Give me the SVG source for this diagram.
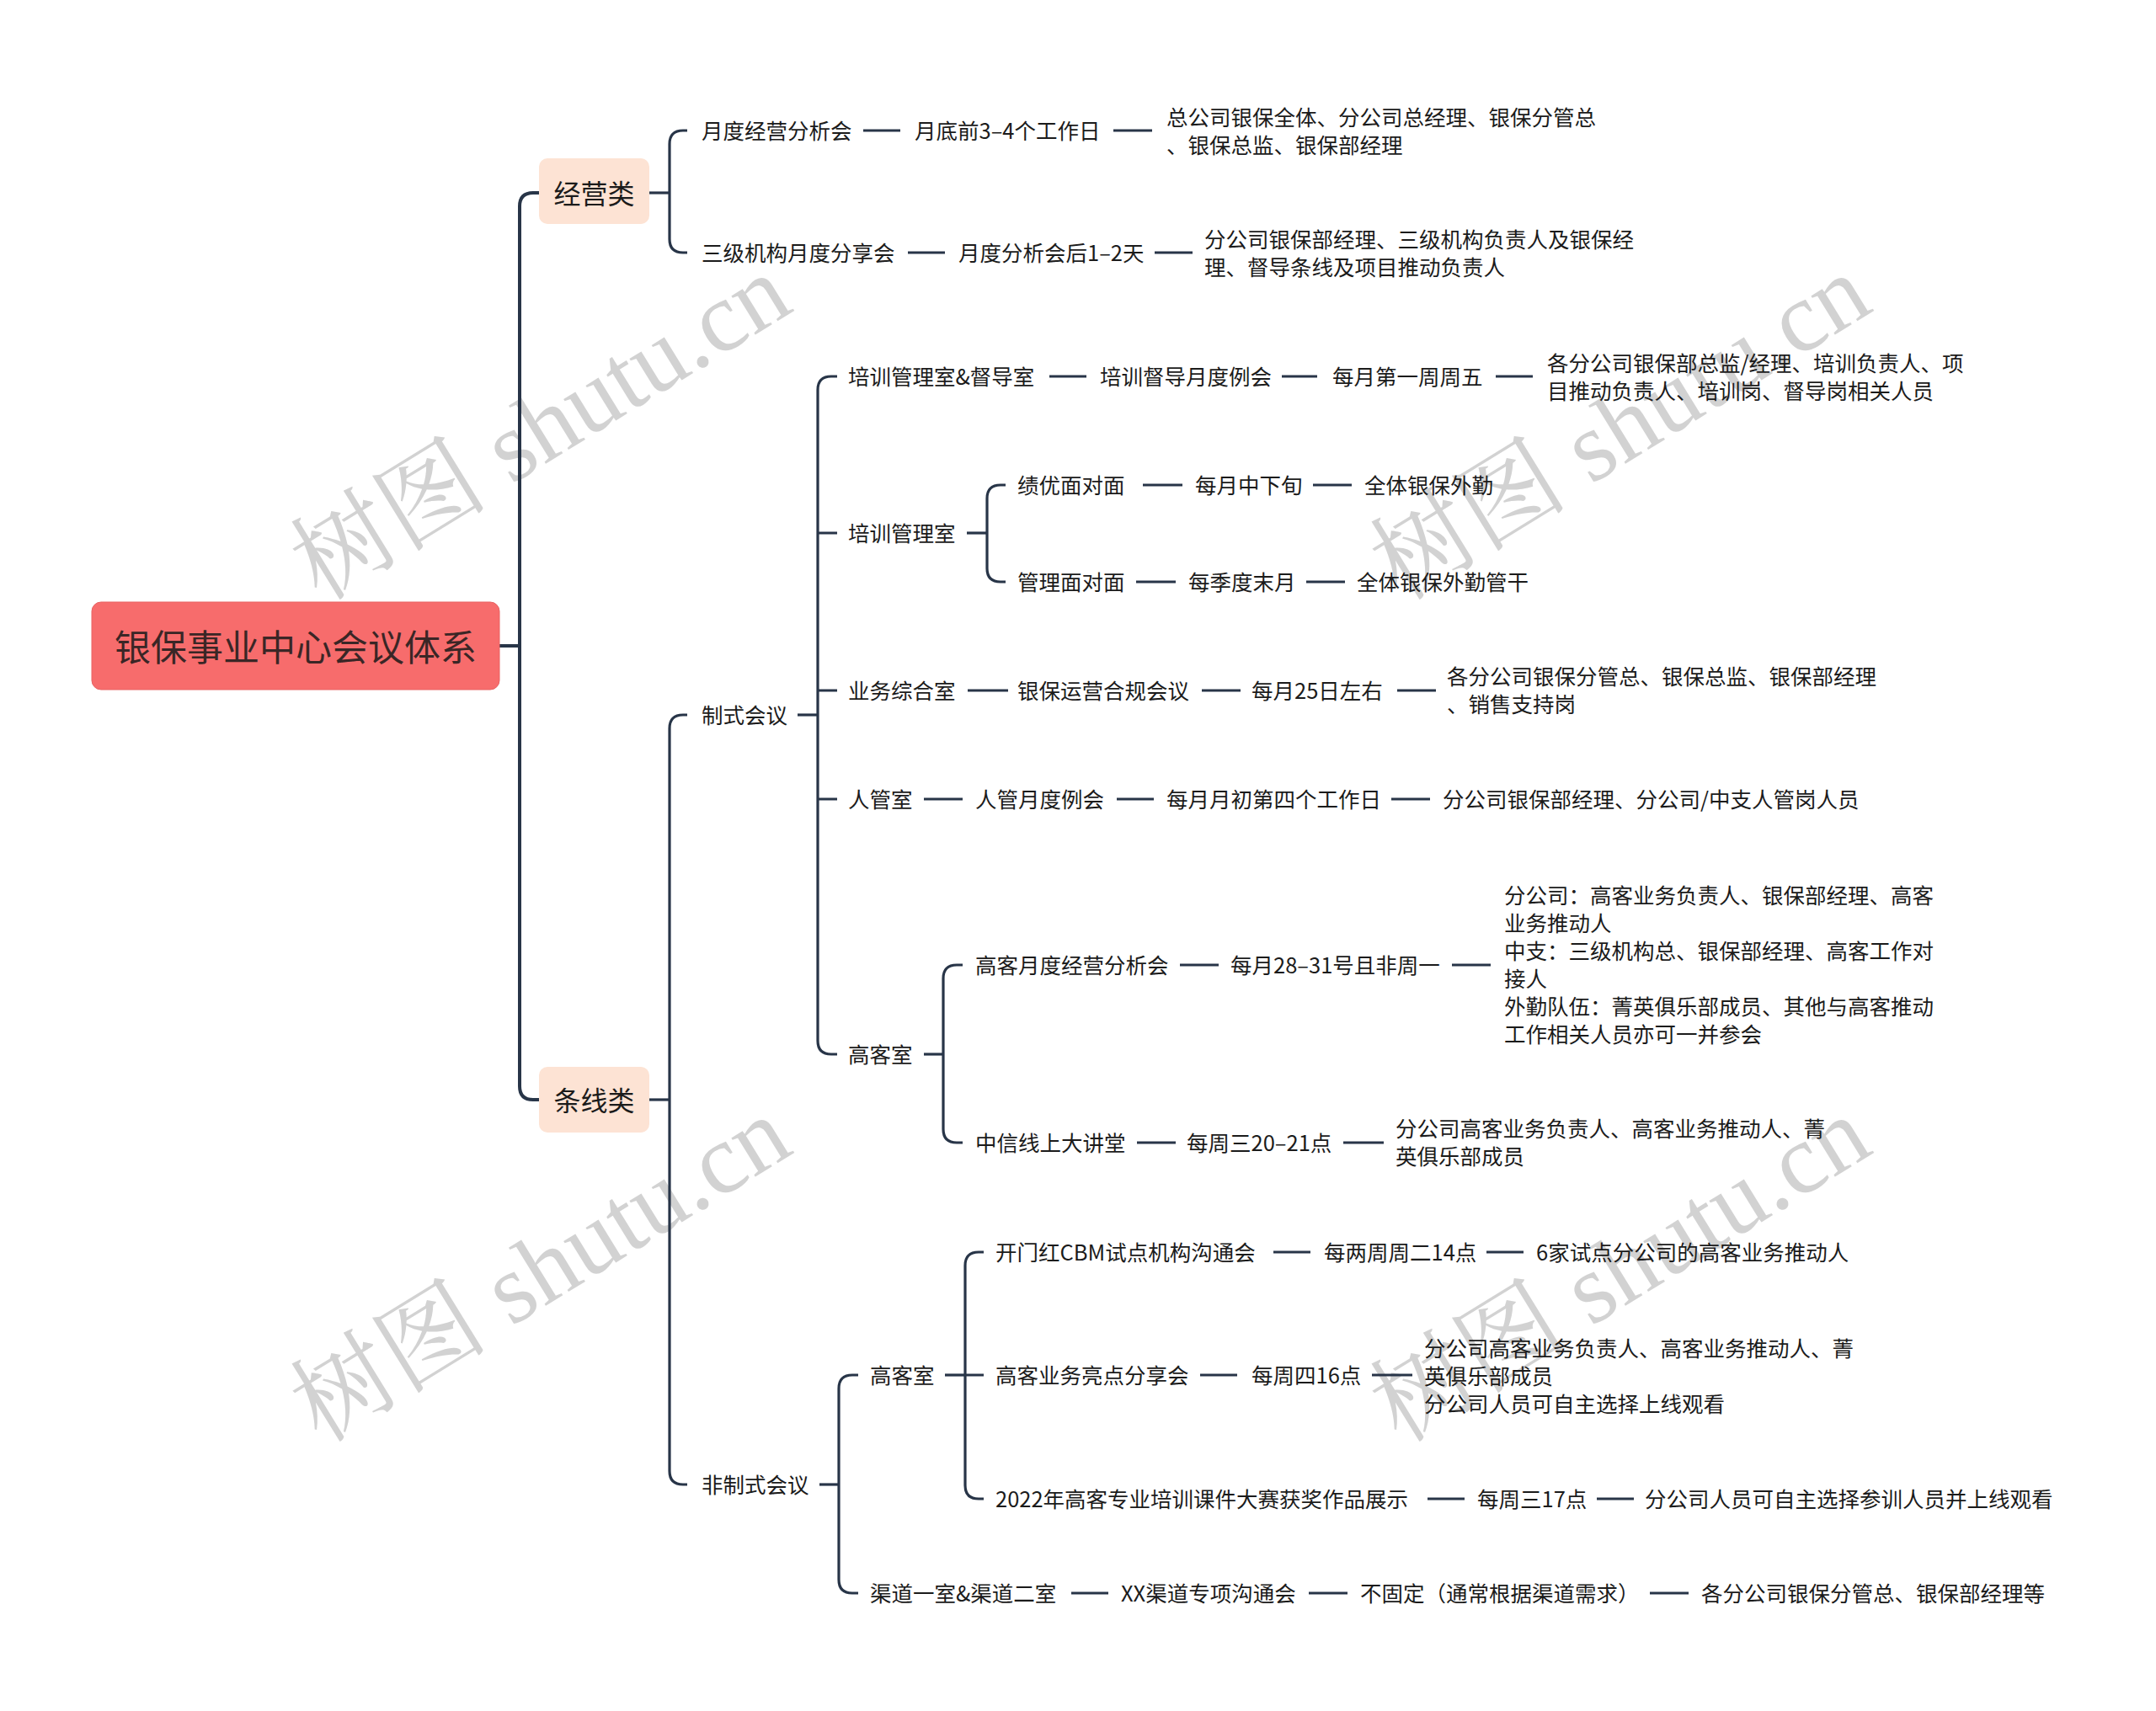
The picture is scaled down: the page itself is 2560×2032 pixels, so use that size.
<svg xmlns="http://www.w3.org/2000/svg" width="2560" height="2032" viewBox="0 0 2560 2032">
<style>
text{font-family:"Noto Sans CJK SC","Noto Sans",sans-serif;fill:#1b1b1b;dominant-baseline:central}
.n{font-size:25.5px;transform:translateY(-1.5px)}
.root{font-size:43px;text-anchor:middle;fill:#3a2626}
.cat{font-size:32px;text-anchor:middle;transform:translateY(-1px)}
.wm{font-family:"Liberation Serif","Noto Serif CJK SC","Noto Sans CJK SC",serif;font-size:118px;fill:#c4c4c4;opacity:0.75;text-anchor:middle}
.c{fill:none;stroke:#283548;stroke-width:3.2;stroke-linecap:butt}
.t{fill:none;stroke:#283548;stroke-width:4}
</style>
<rect width="2560" height="2032" fill="#ffffff"/>
<g id="watermark">
<text class="wm" transform="translate(642,508) rotate(-31.6)">树图 shutu.cn</text>
<text class="wm" transform="translate(1924,508) rotate(-31.6)">树图 shutu.cn</text>
<text class="wm" transform="translate(642,1508) rotate(-31.6)">树图 shutu.cn</text>
<text class="wm" transform="translate(1924,1508) rotate(-31.6)">树图 shutu.cn</text>
</g>
<g id="connectors">
<path class="t" d="M593,767 H617"/>
<path class="t" d="M640,229 H633 Q617,229 617,245 V1290 Q617,1306 633,1306 H640"/>
<path class="c" d="M771,229 H795"/>
<path class="c" d="M816,155 H811 Q795,155 795,171 V284 Q795,300 811,300 H816"/>
<path class="c" d="M1025,155 H1069 M1322,155 H1368"/>
<path class="c" d="M1078,300 H1122 M1371,300 H1416"/>
<path class="c" d="M771,1306 H795"/>
<path class="c" d="M816,849 H811 Q795,849 795,865 V1747 Q795,1763 811,1763 H816"/>
<path class="c" d="M947,849 H971"/>
<path class="c" d="M994,447 H987 Q971,447 971,463 V1236 Q971,1252 987,1252 H994 M971,633 H994 M971,820 H994 M971,949 H994"/>
<path class="c" d="M1246,447 H1290 M1522,447 H1564 M1776,447 H1820"/>
<path class="c" d="M1148,633 H1172"/>
<path class="c" d="M1194,576 H1188 Q1172,576 1172,592 V675 Q1172,691 1188,691 H1194"/>
<path class="c" d="M1357,576 H1404 M1559,576 H1605"/>
<path class="c" d="M1349,691 H1396 M1551,691 H1597"/>
<path class="c" d="M1149,820 H1197 M1427,820 H1473 M1659,820 H1705"/>
<path class="c" d="M1097,949 H1143 M1326,949 H1370 M1652,949 H1698"/>
<path class="c" d="M1097,1252 H1120"/>
<path class="c" d="M1143,1146 H1136 Q1120,1146 1120,1162 V1341 Q1120,1357 1136,1357 H1143"/>
<path class="c" d="M1401,1146 H1447 M1724,1146 H1770"/>
<path class="c" d="M1350,1357 H1396 M1595,1357 H1643"/>
<path class="c" d="M973,1763 H996"/>
<path class="c" d="M1019,1633 H1012 Q996,1633 996,1649 V1876 Q996,1892 1012,1892 H1019"/>
<path class="c" d="M1122,1633 H1146"/>
<path class="c" d="M1168,1487 H1162 Q1146,1487 1146,1503 V1764 Q1146,1780 1162,1780 H1168 M1146,1633 H1168"/>
<path class="c" d="M1512,1487 H1556 M1765,1487 H1809"/>
<path class="c" d="M1425,1633 H1469 M1629,1633 H1677"/>
<path class="c" d="M1695,1780 H1739 M1896,1780 H1940"/>
<path class="c" d="M1272,1892 H1316 M1554,1892 H1600 M1959,1892 H2005"/>
</g>
<g id="root">
<rect x="109" y="715" width="484" height="104" rx="11" fill="#f76c6c" stroke="#e86262" stroke-width="1"/>
<text class="root" x="351" y="766">银保事业中心会议体系</text>
</g>
<g id="cat-jingying">
<rect x="640" y="188" width="131" height="78" rx="10" fill="#fde3d4"/>
<text class="cat" x="705.5" y="229">经营类</text>
</g>
<g id="cat-tiaoxian">
<rect x="640" y="1267" width="131" height="78" rx="10" fill="#fde3d4"/>
<text class="cat" x="705.5" y="1306">条线类</text>
</g>
<g id="n-ydjyfxh"><text class="n" x="833" y="155">月度经营分析会</text></g>
<g id="n-ydq34"><text class="n" x="1086" y="155">月底前3–4个工作日</text></g>
<g id="n-ydjyfxh-p"><text class="n" x="1385" y="139">总公司银保全体、分公司总经理、银保分管总</text><text class="n" x="1385" y="172">、银保总监、银保部经理</text></g>
<g id="n-sjjg"><text class="n" x="833" y="300">三级机构月度分享会</text></g>
<g id="n-ydfxhh"><text class="n" x="1138" y="300">月度分析会后1–2天</text></g>
<g id="n-sjjg-p"><text class="n" x="1430" y="284">分公司银保部经理、三级机构负责人及银保经</text><text class="n" x="1430" y="317">理、督导条线及项目推动负责人</text></g>
<g id="n-zsgy"><text class="n" x="833" y="849">制式会议</text></g>
<g id="n-pxddsh"><text class="n" x="1007" y="447">培训管理室&amp;督导室</text></g>
<g id="n-pxddyl"><text class="n" x="1306" y="447">培训督导月度例会</text></g>
<g id="n-myzydzw"><text class="n" x="1582" y="447">每月第一周周五</text></g>
<g id="n-pxdd-p"><text class="n" x="1837" y="431">各分公司银保部总监/经理、培训负责人、项</text><text class="n" x="1837" y="464">目推动负责人、培训岗、督导岗相关人员</text></g>
<g id="n-pxglsh"><text class="n" x="1007" y="633">培训管理室</text></g>
<g id="n-jymdm"><text class="n" x="1208" y="576">绩优面对面</text></g>
<g id="n-myzxx"><text class="n" x="1419" y="576">每月中下旬</text></g>
<g id="n-qtybwq"><text class="n" x="1620" y="576">全体银保外勤</text></g>
<g id="n-glmdm"><text class="n" x="1208" y="691">管理面对面</text></g>
<g id="n-mjdmy"><text class="n" x="1411" y="691">每季度末月</text></g>
<g id="n-qtybwqgg"><text class="n" x="1611" y="691">全体银保外勤管干</text></g>
<g id="n-ywzhs"><text class="n" x="1007" y="820">业务综合室</text></g>
<g id="n-byyhgh"><text class="n" x="1208" y="820">银保运营合规会议</text></g>
<g id="n-my25"><text class="n" x="1486" y="820">每月25日左右</text></g>
<g id="n-byyhgh-p"><text class="n" x="1718" y="803">各分公司银保分管总、银保总监、银保部经理</text><text class="n" x="1718" y="836">、销售支持岗</text></g>
<g id="n-rgs"><text class="n" x="1007" y="949">人管室</text></g>
<g id="n-rgydl"><text class="n" x="1158" y="949">人管月度例会</text></g>
<g id="n-mymcd4"><text class="n" x="1385" y="949">每月月初第四个工作日</text></g>
<g id="n-rgydl-p"><text class="n" x="1713" y="949">分公司银保部经理、分公司/中支人管岗人员</text></g>
<g id="n-gks1"><text class="n" x="1007" y="1252">高客室</text></g>
<g id="n-gkydjy"><text class="n" x="1158" y="1146">高客月度经营分析会</text></g>
<g id="n-my2831"><text class="n" x="1461" y="1146">每月28–31号且非周一</text></g>
<g id="n-gkydjy-p">
<text class="n" x="1786" y="1063">分公司：高客业务负责人、银保部经理、高客</text>
<text class="n" x="1786" y="1096">业务推动人</text>
<text class="n" x="1786" y="1129">中支：三级机构总、银保部经理、高客工作对</text>
<text class="n" x="1786" y="1162">接人</text>
<text class="n" x="1786" y="1195">外勤队伍：菁英俱乐部成员、其他与高客推动</text>
<text class="n" x="1786" y="1228">工作相关人员亦可一并参会</text>
</g>
<g id="n-zxxsdjt"><text class="n" x="1158" y="1357">中信线上大讲堂</text></g>
<g id="n-mz32021"><text class="n" x="1409" y="1357">每周三20–21点</text></g>
<g id="n-zxxsdjt-p"><text class="n" x="1657" y="1340">分公司高客业务负责人、高客业务推动人、菁</text><text class="n" x="1657" y="1373">英俱乐部成员</text></g>
<g id="n-fzsgy"><text class="n" x="833" y="1763">非制式会议</text></g>
<g id="n-gks2"><text class="n" x="1033" y="1633">高客室</text></g>
<g id="n-kmhcbm"><text class="n" x="1182" y="1487">开门红CBM试点机构沟通会</text></g>
<g id="n-mlzze14"><text class="n" x="1572" y="1487">每两周周二14点</text></g>
<g id="n-kmhcbm-p"><text class="n" x="1824" y="1487">6家试点分公司的高客业务推动人</text></g>
<g id="n-gkywld"><text class="n" x="1182" y="1633">高客业务亮点分享会</text></g>
<g id="n-mzs16"><text class="n" x="1486" y="1633">每周四16点</text></g>
<g id="n-gkywld-p"><text class="n" x="1691" y="1601">分公司高客业务负责人、高客业务推动人、菁</text><text class="n" x="1691" y="1634">英俱乐部成员</text><text class="n" x="1691" y="1667">分公司人员可自主选择上线观看</text></g>
<g id="n-2022"><text class="n" x="1182" y="1780">2022年高客专业培训课件大赛获奖作品展示</text></g>
<g id="n-mzs17"><text class="n" x="1754" y="1780">每周三17点</text></g>
<g id="n-2022-p"><text class="n" x="1953" y="1780">分公司人员可自主选择参训人员并上线观看</text></g>
<g id="n-qd"><text class="n" x="1033" y="1892">渠道一室&amp;渠道二室</text></g>
<g id="n-xxqd"><text class="n" x="1331" y="1892">XX渠道专项沟通会</text></g>
<g id="n-bgd"><text class="n" x="1615" y="1892">不固定（通常根据渠道需求）</text></g>
<g id="n-qd-p"><text class="n" x="2020" y="1892">各分公司银保分管总、银保部经理等</text></g>
</svg>
